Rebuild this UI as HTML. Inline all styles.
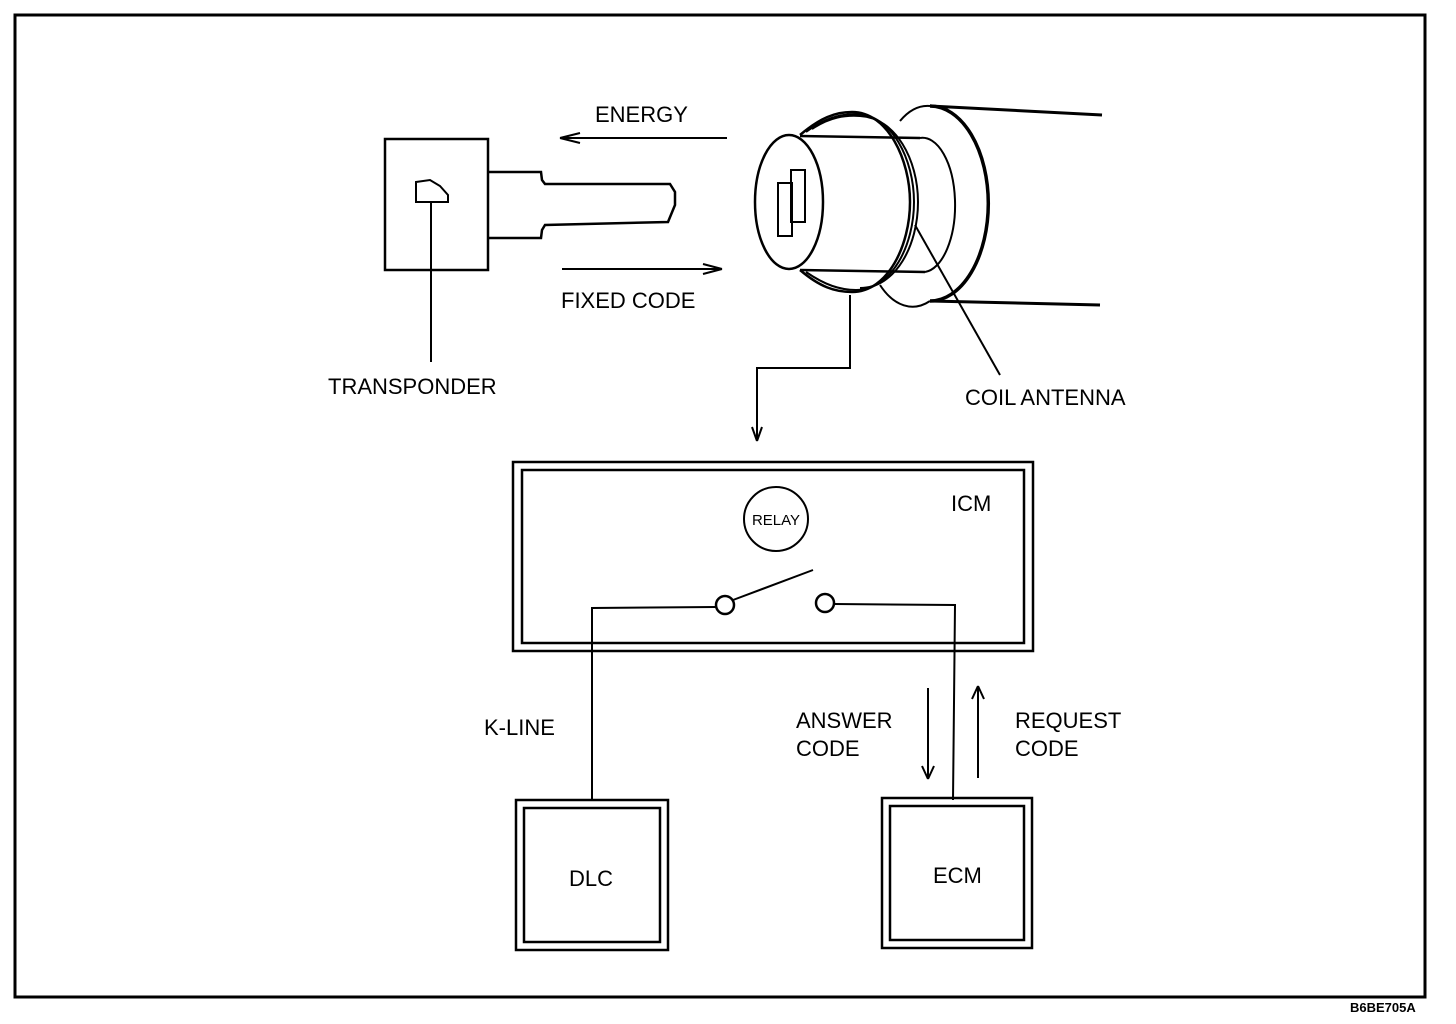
<!DOCTYPE html>
<html><head><style>body{margin:0;background:#fff}svg{display:block}text{font-family:"Liberation Sans",Arial,sans-serif;fill:#000}</style></head>
<body>
<svg width="1456" height="1024" viewBox="0 0 1456 1024" xmlns="http://www.w3.org/2000/svg">
<g fill="none" stroke="#000" stroke-width="2">
<rect x="15" y="15" width="1410" height="982" stroke-width="3"/>
<!-- key -->
<rect x="385" y="139" width="103" height="131" stroke-width="2.5"/>
<path d="M416 182 L430 180 L440 186 L448 195 L448 202 L416 202 Z"/>
<line x1="431" y1="202" x2="431" y2="362"/>
<path d="M488 172 L541 172 L542 180 L545 184 L670 184 L675 192 L675 205 L668 222 L545 225 L542 230 L541 238 L488 238" stroke-width="2.5"/>
<!-- arrows -->
<line x1="727" y1="138" x2="560" y2="138"/><path d="M560 138 L580 133 M560 138 L580 143"/>
<line x1="562" y1="269" x2="722" y2="269"/><path d="M722 269 L703 264 M722 269 L703 274"/>
<!-- cylinder -->
<line x1="1102" y1="115" x2="930" y2="106" stroke-width="3"/>
<line x1="1100" y1="305" x2="930" y2="301" stroke-width="3"/>
<path d="M930 106 A58 97 0 0 1 930 301" stroke-width="3.5"/>
<path d="M900 121 A50 90 0 0 1 930 106"/>
<path d="M880 285 A50 90 0 0 0 930 301"/>
<path d="M920 138 A32 66 0 0 1 925 272"/>
<line x1="800" y1="136" x2="920" y2="138" stroke-width="2.5"/>
<line x1="800" y1="270" x2="925" y2="272" stroke-width="2.5"/>
<path d="M800 135 C820 118 835 112 852 112 C888 112 910 160 910 202 C910 245 888 292 852 292 C835 292 820 287 800 270" stroke-width="2.5"/>
<path d="M806 132 C825 118 840 114 856 114 C892 114 914 160 914 202 C914 245 892 290 856 290 C840 290 825 285 806 272"/>
<path d="M812 129 C830 117 845 115 860 116 C896 118 918 160 918 202 C918 245 896 288 860 288"/>
<ellipse cx="789" cy="202" rx="34" ry="67" stroke-width="2.5" fill="#fff"/>
<rect x="778" y="183" width="14" height="53"/>
<rect x="791" y="170" width="14" height="52"/>
<line x1="915" y1="225" x2="1000" y2="375"/>
<!-- connector to ICM -->
<path d="M850 295 L850 368 L757 368 L757 440"/>
<path d="M757 441 L752 427 M757 441 L762 427"/>
<!-- ICM -->
<rect x="513" y="462" width="520" height="189" stroke-width="2.5"/>
<rect x="522" y="470" width="502" height="173" stroke-width="2.5"/>
<circle cx="776" cy="519" r="32"/>
<path d="M592 800 L592 608 L716 607"/>
<circle cx="725" cy="605" r="9" stroke-width="2.5"/>
<line x1="733" y1="600" x2="813" y2="570"/>
<circle cx="825" cy="603" r="9" stroke-width="2.5"/>
<path d="M834 604 L955 605 L953 800"/>
<!-- DLC, ECM -->
<rect x="516" y="800" width="152" height="150" stroke-width="2.5"/>
<rect x="524" y="808" width="136" height="134" stroke-width="2.5"/>
<rect x="882" y="798" width="150" height="150" stroke-width="2.5"/>
<rect x="890" y="806" width="134" height="134" stroke-width="2.5"/>
<line x1="928" y1="688" x2="928" y2="778"/><path d="M928 779 L922 766 M928 779 L934 766"/>
<line x1="978" y1="687" x2="978" y2="778"/><path d="M978 686 L972 699 M978 686 L984 699"/>
</g>
<g font-size="22">
<text x="595" y="122">ENERGY</text>
<text x="561" y="308">FIXED CODE</text>
<text x="328" y="394">TRANSPONDER</text>
<text x="965" y="405">COIL ANTENNA</text>
<text x="951" y="511">ICM</text>
<text x="484" y="735">K-LINE</text>
<text x="796" y="728">ANSWER</text>
<text x="796" y="756">CODE</text>
<text x="1015" y="728">REQUEST</text>
<text x="1015" y="756">CODE</text>
<text x="569" y="886">DLC</text>
<text x="933" y="883">ECM</text>
</g>
<text x="776" y="525" font-size="15" text-anchor="middle">RELAY</text>
<text x="1350" y="1012" font-size="13" font-weight="bold">B6BE705A</text>
</svg>
</body></html>
